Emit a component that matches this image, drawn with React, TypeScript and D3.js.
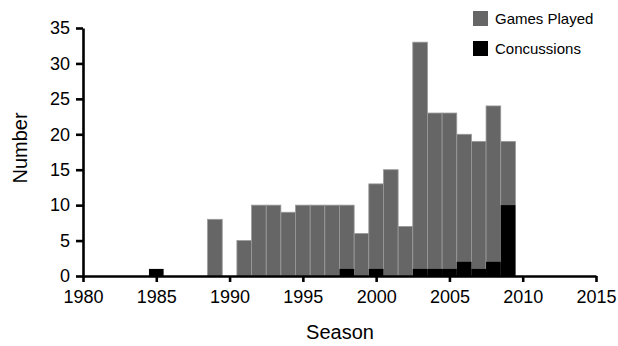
import React, { useEffect, useRef } from 'react';
import * as d3 from 'd3';

const seasons = [1985, 1989, 1991, 1992, 1993, 1994, 1995, 1996, 1997, 1998, 1999, 2000, 2001, 2002, 2003, 2004, 2005, 2006, 2007, 2008, 2009];
const gamesPlayed = [0, 8, 5, 10, 10, 9, 10, 10, 10, 10, 6, 13, 15, 7, 33, 23, 23, 20, 19, 24, 19];
const concussions = [1, 0, 0, 0, 0, 0, 0, 0, 0, 1, 0, 1, 0, 0, 1, 1, 1, 2, 1, 2, 10];
const xTicks = [1980, 1985, 1990, 1995, 2000, 2005, 2010, 2015];
const yTicks = [0, 5, 10, 15, 20, 25, 30, 35];

const W = 618;
const H = 346;
const FONT = '"Liberation Sans", Arial, sans-serif';

const App = () => {
  const svgRef = useRef<SVGSVGElement>(null);

  useEffect(() => {
    const svg = d3.select(svgRef.current);
    svg.selectAll('*').remove();

    const x = d3.scaleLinear().domain([1980, 2015]).range([83, 596]);
    const y = d3.scaleLinear().domain([0, 35]).range([276, 28]);
    const bw = x(1981) - x(1980);

    const rows = seasons.map((s, i) => ({ s, g: gamesPlayed[i], c: concussions[i] }));

    // games played (grey)
    svg.append('g')
      .selectAll('rect')
      .data(rows.filter(d => d.g > 0))
      .enter()
      .append('rect')
      .attr('x', d => x(d.s - 0.5))
      .attr('width', bw)
      .attr('y', d => y(d.g))
      .attr('height', d => y(0) - y(d.g))
      .attr('fill', '#666666')
      .attr('stroke', '#9a9a9a')
      .attr('stroke-width', 0.8);

    // concussions (black), drawn over
    svg.append('g')
      .selectAll('rect')
      .data(rows.filter(d => d.c > 0))
      .enter()
      .append('rect')
      .attr('x', d => x(d.s - 0.5))
      .attr('width', bw)
      .attr('y', d => y(d.c))
      .attr('height', d => y(0) - y(d.c))
      .attr('fill', '#000000');

    const yAxis = svg.append('g')
      .attr('transform', `translate(${x(1980)},0)`)
      .call(d3.axisLeft(y).tickValues(yTicks).tickSize(7).tickPadding(6).tickSizeOuter(0));

    const xAxis = svg.append('g')
      .attr('transform', `translate(0,${y(0)})`)
      .call(d3.axisBottom(x).tickValues(xTicks).tickFormat(d3.format('d')).tickSize(6).tickPadding(8).tickSizeOuter(0));

    [yAxis, xAxis].forEach(a => {
      a.select('.domain').attr('stroke', '#000').attr('stroke-width', 2.6);
      a.selectAll('.tick line').attr('stroke', '#000').attr('stroke-width', 2.6);
      a.selectAll('.tick text').attr('fill', '#000').style('font-family', FONT).style('font-size', '18px');
    });

    svg.append('text')
      .attr('x', 340)
      .attr('y', 339)
      .attr('text-anchor', 'middle')
      .style('font-family', FONT)
      .style('font-size', '20px')
      .text('Season');

    svg.append('text')
      .attr('transform', `translate(27,148) rotate(-90)`)
      .attr('text-anchor', 'middle')
      .style('font-family', FONT)
      .style('font-size', '20px')
      .text('Number');

    const legend = [
      { label: 'Games Played', color: '#666666' },
      { label: 'Concussions', color: '#000000' },
    ];
    const lg = svg.append('g').attr('transform', 'translate(473,11)');
    legend.forEach((l, i) => {
      lg.append('rect')
        .attr('x', 0)
        .attr('y', i * 30)
        .attr('width', 15)
        .attr('height', 15)
        .attr('fill', l.color);
      lg.append('text')
        .attr('x', 22)
        .attr('y', i * 30 + 13)
        .style('font-family', FONT)
        .style('font-size', '15px')
        .text(l.label);
    });
  }, []);

  return <svg ref={svgRef} width={W} height={H} style={{ position: 'absolute', left: 0, top: 0 }}></svg>;
};

export default App;
